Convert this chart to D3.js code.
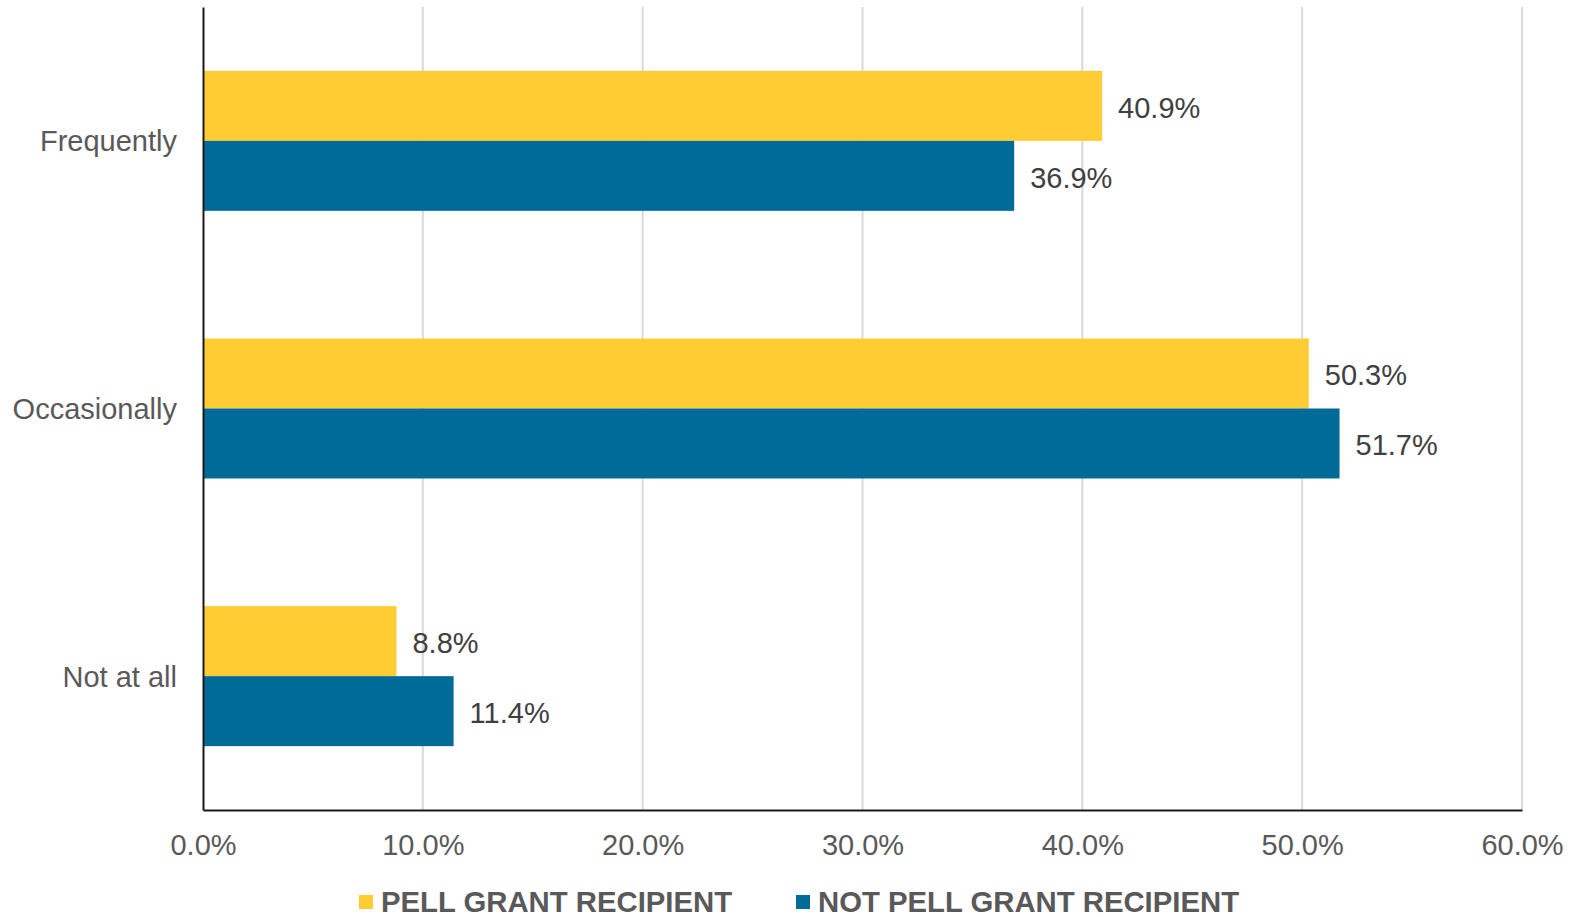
<!DOCTYPE html>
<html>
<head>
<meta charset="utf-8">
<script src="https://cdn.jsdelivr.net/npm/d3@7/dist/d3.min.js"></script>
<style>
  html, body { margin: 0; padding: 0; background: #fff; }
  svg { display: block; font-family: Arial, "Liberation Sans", sans-serif; }
</style>
</head>
<body>
<svg id="chart" width="1576" height="917"></svg>
<script>
const categories = ["Frequently", "Occasionally", "Not at all"];
const seriesNames = ["PELL GRANT RECIPIENT", "NOT PELL GRANT RECIPIENT"];
const pellValues = [40.9, 50.3, 8.8];
const notPellValues = [36.9, 51.7, 11.4];
const tickValues = [0, 10, 20, 30, 40, 50, 60];
const colors = ["#FFCC33", "#006A98"];

const W = 1576, H = 917;
const margin = { top: 7, right: 54, bottom: 107, left: 203 };
const svg = d3.select("#chart");

const x = d3.scaleLinear().domain([0, 60]).range([margin.left, W - margin.right]);
const y = d3.scaleBand().domain(categories).range([margin.top, H - margin.bottom]).padding(0);
const groupH = y.bandwidth() * 0.523;
const inner = d3.scaleBand().domain(seriesNames).range([0, groupH]).padding(0);

const data = categories.map((c, i) => ({
  cat: c,
  vals: [
    { s: seriesNames[0], v: pellValues[i], color: colors[0] },
    { s: seriesNames[1], v: notPellValues[i], color: colors[1] }
  ]
}));

// gridlines
svg.append("g")
  .selectAll("line")
  .data(tickValues.slice(1))
  .join("line")
  .attr("x1", d => x(d)).attr("x2", d => x(d))
  .attr("y1", margin.top).attr("y2", H - margin.bottom)
  .attr("stroke", "#d9d9d9").attr("stroke-width", 2);

// bars
const groups = svg.append("g").selectAll("g")
  .data(data).join("g")
  .attr("transform", d => `translate(0,${y(d.cat) + (y.bandwidth() - groupH) / 2})`);

groups.selectAll("rect")
  .data(d => d.vals).join("rect")
  .attr("x", x(0))
  .attr("y", d => inner(d.s))
  .attr("width", d => x(d.v) - x(0))
  .attr("height", inner.bandwidth())
  .attr("fill", d => d.color);

groups.selectAll("text")
  .data(d => d.vals).join("text")
  .attr("x", d => x(d.v) + 16)
  .attr("y", d => inner(d.s) + inner.bandwidth() / 2 + 12)
  .attr("font-size", 29)
  .attr("fill", "#404040")
  .text(d => d.v.toFixed(1) + "%");

// x axis
const xAxis = d3.axisBottom(x).tickValues(tickValues).tickSize(0).tickFormat(d => d.toFixed(1) + "%");
const gx = svg.append("g")
  .attr("transform", `translate(0,${H - margin.bottom})`)
  .call(xAxis);
gx.select(".domain").attr("stroke", "#1a1a1a").attr("stroke-width", 2);
gx.selectAll("text")
  .attr("font-size", 29).attr("fill", "#595959")
  .attr("font-family", "Arial, 'Liberation Sans', sans-serif")
  .attr("dy", null).attr("y", 45);

// y axis
const yAxis = d3.axisLeft(y).tickSize(0).tickPadding(26);
const gy = svg.append("g")
  .attr("transform", `translate(${margin.left},0)`)
  .call(yAxis);
gy.select(".domain").attr("stroke", "#1a1a1a").attr("stroke-width", 2);
gy.selectAll("text")
  .attr("font-size", 29).attr("fill", "#595959")
  .attr("font-family", "Arial, 'Liberation Sans', sans-serif")
  .attr("dy", "0.36em");

// legend
const legendX = [359, 796];
const legend = svg.append("g").selectAll("g")
  .data(seriesNames).join("g")
  .attr("transform", (d, i) => `translate(${legendX[i]},895)`);
legend.append("rect")
  .attr("width", 14).attr("height", 14)
  .attr("fill", (d, i) => colors[i]);
legend.append("text")
  .attr("x", 22).attr("y", 16.5)
  .attr("font-size", 29.3).attr("font-weight", "bold")
  .attr("fill", "#595959")
  .text(d => d);
</script>
</body>
</html>
